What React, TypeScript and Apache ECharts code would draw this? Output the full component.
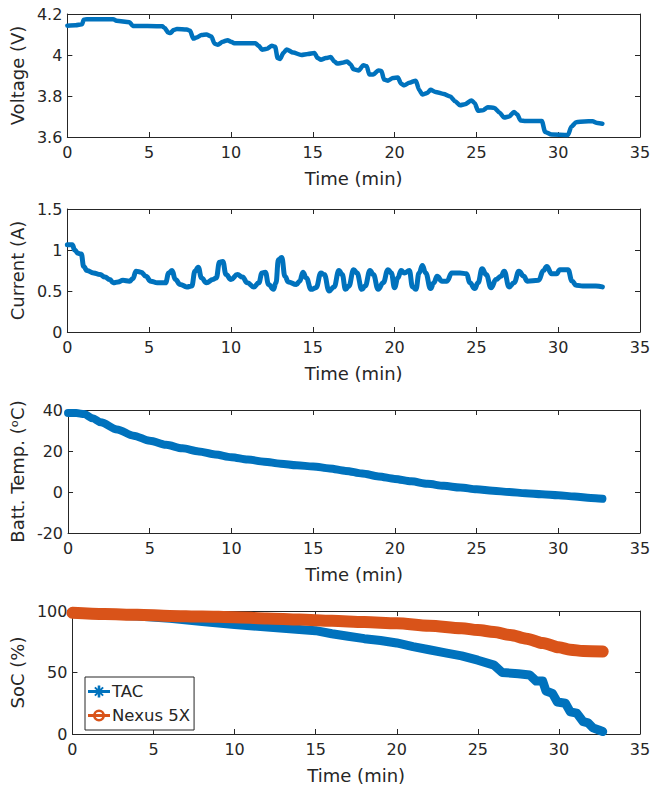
import React, { useEffect, useRef } from 'react';
import * as echarts from 'echarts';

// ---------- data ----------
const xTickMin = 0;
const xTickMax = 35;
const xTickStep = 5;

const voltTime = [0, 0.5, 0.9, 1.0, 1.2, 2.8, 3.0, 3.8, 4.0, 5.8, 5.95, 6.15, 6.3, 6.5, 6.7, 7.3, 7.5, 7.7, 7.9, 8.2, 8.5, 8.8, 9.0, 9.2, 9.5, 9.8, 10.0, 10.2, 11.5, 11.7, 11.9, 12.2, 12.5, 12.7, 12.85, 13.0, 13.2, 13.4, 13.8, 14.3, 14.7, 15.1, 15.3, 15.5, 15.8, 16.1, 16.3, 16.5, 16.8, 17.1, 17.3, 17.5, 17.8, 18.1, 18.3, 18.45, 18.7, 19.0, 19.2, 19.35, 19.6, 19.9, 20.2, 20.4, 20.6, 20.9, 21.3, 21.5, 21.7, 22.0, 22.2, 22.5, 23.0, 23.4, 23.7, 24.0, 24.3, 24.7, 24.9, 25.1, 25.4, 25.7, 26.1, 26.4, 26.7, 27.0, 27.3, 27.5, 27.7, 28.0, 29.0, 29.2, 29.6, 30.6, 30.8, 31.1, 31.6, 32.1, 32.4, 32.7];
const voltValue = [4.143, 4.145, 4.15, 4.172, 4.175, 4.175, 4.167, 4.16, 4.142, 4.14, 4.132, 4.11, 4.107, 4.122, 4.127, 4.125, 4.118, 4.08, 4.085, 4.098, 4.1, 4.09, 4.055, 4.05, 4.065, 4.072, 4.065, 4.057, 4.057, 4.045, 4.026, 4.03, 4.045, 4.04, 3.985, 3.98, 4.01, 4.027, 4.012, 4.0, 4.005, 4.01, 3.985, 3.977, 3.985, 3.99, 3.97, 3.958, 3.962, 3.968, 3.955, 3.93, 3.925, 3.95, 3.945, 3.905, 3.905, 3.925, 3.922, 3.88, 3.875, 3.888, 3.89, 3.86, 3.852, 3.865, 3.875, 3.83, 3.807, 3.815, 3.83, 3.82, 3.81, 3.798, 3.775, 3.755, 3.76, 3.778, 3.765, 3.728, 3.73, 3.745, 3.742, 3.72, 3.695, 3.7, 3.722, 3.71, 3.68, 3.678, 3.678, 3.625, 3.612, 3.61, 3.65, 3.672, 3.676, 3.677, 3.668, 3.665];

const currTime = [0, 0.3, 0.45, 0.65, 0.85, 1.0, 1.2, 1.6, 2.0, 2.3, 2.6, 2.8, 3.1, 3.4, 3.8, 4.0, 4.2, 4.5, 4.8, 5.1, 5.5, 6.0, 6.2, 6.4, 6.6, 6.9, 7.3, 7.6, 7.8, 8.0, 8.2, 8.5, 8.9, 9.1, 9.3, 9.5, 9.7, 10.0, 10.4, 10.7, 11.0, 11.4, 11.7, 11.9, 12.1, 12.3, 12.6, 12.75, 12.9, 13.1, 13.3, 13.5, 14.0, 14.2, 14.4, 14.6, 14.9, 15.2, 15.5, 15.7, 16.0, 16.3, 16.6, 16.8, 17.0, 17.2, 17.5, 17.7, 18.0, 18.2, 18.5, 18.7, 19.0, 19.3, 19.6, 19.8, 20.0, 20.2, 20.4, 20.6, 20.9, 21.1, 21.3, 21.5, 21.7, 21.9, 22.2, 22.4, 22.6, 22.9, 23.2, 23.5, 24.0, 24.4, 24.6, 24.9, 25.1, 25.35, 25.6, 25.9, 26.2, 26.5, 26.7, 27.0, 27.3, 27.6, 27.9, 28.1, 28.8, 29.1, 29.3, 29.6, 29.9, 30.1, 30.6, 30.85, 31.1, 31.5, 32.3, 32.7];
const currValue = [1.065, 1.065, 1.0, 0.96, 0.95, 0.8, 0.75, 0.72, 0.7, 0.67, 0.64, 0.6, 0.61, 0.63, 0.62, 0.65, 0.74, 0.73, 0.68, 0.62, 0.6, 0.6, 0.72, 0.75, 0.64, 0.58, 0.55, 0.56, 0.74, 0.79, 0.66, 0.6, 0.64, 0.66, 0.85, 0.86, 0.7, 0.64, 0.7, 0.67, 0.6, 0.55, 0.6, 0.72, 0.73, 0.58, 0.52, 0.6, 0.88, 0.91, 0.68, 0.61, 0.58, 0.62, 0.73, 0.66, 0.52, 0.54, 0.72, 0.7, 0.5, 0.55, 0.75, 0.7, 0.52, 0.56, 0.76, 0.72, 0.52, 0.56, 0.75, 0.7, 0.52, 0.6, 0.76, 0.72, 0.54, 0.66, 0.75, 0.72, 0.75, 0.55, 0.52, 0.72, 0.81, 0.72, 0.53, 0.6, 0.68, 0.62, 0.62, 0.72, 0.72, 0.71, 0.6, 0.53, 0.6, 0.77, 0.7, 0.54, 0.64, 0.68, 0.74, 0.55, 0.6, 0.74, 0.68, 0.62, 0.63, 0.75, 0.8, 0.71, 0.71, 0.76, 0.76, 0.62, 0.57, 0.56, 0.56, 0.55];

const tempTime = [0, 0.5, 1, 1.5, 2, 3, 4, 5, 6, 7, 8, 9, 10, 11, 12, 13, 14, 15, 16, 17, 18, 19, 20, 21, 22, 23, 24, 25, 26, 27, 28, 29, 30, 31, 32, 32.7];
const tempValue = [38.5, 38.5, 38, 36, 34, 30.5, 27.5, 25, 23, 21.3, 19.8, 18.3, 17, 15.8, 14.8, 13.8, 13, 12.5, 11.5, 10.3, 9, 7.6, 6.4, 5.2, 4, 3, 2.2, 1.3, 0.6, 0, -0.6, -1.1, -1.6, -2.2, -2.9, -3.3];

const tacTime = [0, 2, 4, 6, 8, 10, 12, 14, 15, 16, 17, 18, 19, 20, 21, 22, 23, 24, 25, 26, 26.5, 27.5, 28.2, 28.6, 29.0, 29.2, 29.6, 29.9, 30.4, 30.7, 31.1, 31.5, 31.8, 32.1, 32.5, 32.7];
const tacSoc = [98, 97, 96, 94, 91.5, 89, 87, 85, 84, 81.5, 79.5, 77.5, 76, 74, 71, 68.5, 66, 63.5, 60, 56, 50, 49, 48, 43, 43, 35, 33, 26, 25, 18, 17, 10, 9, 5, 3, 2];

const nexusTime = [0, 2, 4, 6, 8, 10, 12, 14, 16, 18, 20, 22, 24, 25, 26, 27, 28, 29, 30, 30.7, 31.5, 32.7];
const nexusSoc = [98.5, 97.5, 97, 96, 95.5, 95, 94, 93, 92, 91, 90, 88, 86, 84.5, 83, 80.5, 77.5, 74, 70.5, 68.5, 67.5, 67];

const yLabels = ['Voltage (V)', 'Current (A)', 'Batt. Temp. (ᵒC)', 'SoC (%)'];
const yMin = [3.6, 0, -20, 0];
const yMax = [4.2, 1.5, 40, 100];
const yStep = [0.2, 0.5, 20, 50];
const xLabel = 'Time (min)';
const legendNames = ['TAC', 'Nexus 5X'];

// ---------- style ----------
const FONT = 'DejaVu Sans';
const TXT = '#262626';
const AXC = '#262626';
const BLUE = '#0072BD';
const ORANGE = '#D95319';
const panelTops = [14, 209, 410, 611];
const panelH = 123;

const pair = (t: number[], v: number[]) => t.map((x, i) => [x, v[i]]);

const TAC_ICON =
  'path://M0 4.5L22 4.5L22 7.5L0 7.5Z M9.7 0L12.3 0L12.3 12L9.7 12Z M7.6 1.2L15.8 9.4L14.4 10.8L6.2 2.6Z M14.4 1.2L15.8 2.6L7.6 10.8L6.2 9.4Z';
const NEXUS_ICON =
  'path://M0 4.5L22 4.5L22 7.5L0 7.5Z M5 6A6 6 0 0 1 17 6A6 6 0 0 1 5 6Z M7.6 6A3.4 3.4 0 0 0 14.4 6A3.4 3.4 0 0 0 7.6 6Z';

export default function App() {
  const ref = useRef<HTMLDivElement>(null);
  useEffect(() => {
    const chart = echarts.init(ref.current!, null, { renderer: 'svg' });
    const grids: any[] = [];
    const xAxes: any[] = [];
    const yAxes: any[] = [];
    const axisLine = { show: true, onZero: false, lineStyle: { color: AXC, width: 1 } };
    const tick = { show: true, inside: true, length: 5, lineStyle: { color: AXC, width: 1 } };
    const labelStyle = { color: TXT, fontFamily: FONT, fontSize: 16 };
    for (let i = 0; i < 4; i++) {
      grids.push({ left: 67, width: 573, top: panelTops[i], height: panelH, containLabel: false });
    }
    for (let i = 0; i < 4; i++) {
      xAxes.push({
        type: 'value', gridIndex: i, min: xTickMin, max: xTickMax, interval: xTickStep,
        position: 'bottom', axisLine, axisTick: tick, splitLine: { show: false },
        axisLabel: { ...labelStyle, margin: 7 },
        name: xLabel, nameLocation: 'middle', nameGap: 32,
        nameTextStyle: { color: TXT, fontFamily: FONT, fontSize: 18 },
      });
    }
    for (let i = 0; i < 4; i++) {
      xAxes.push({
        type: 'value', gridIndex: i, min: xTickMin, max: xTickMax, interval: xTickStep,
        position: 'top', axisLine, axisTick: tick, splitLine: { show: false },
        axisLabel: { show: false },
      });
    }
    for (let i = 0; i < 4; i++) {
      yAxes.push({
        type: 'value', gridIndex: i, min: yMin[i], max: yMax[i], interval: yStep[i],
        position: 'left', axisLine, axisTick: tick, splitLine: { show: false },
        axisLabel: {
          ...labelStyle, margin: 5,
          formatter: (v: number) => String(+v.toFixed(2)),
        },
        name: yLabels[i], nameLocation: 'middle', nameGap: 34,
        nameTextStyle: { color: TXT, fontFamily: FONT, fontSize: 18 },
      });
    }
    for (let i = 0; i < 4; i++) {
      yAxes.push({
        type: 'value', gridIndex: i, min: yMin[i], max: yMax[i], interval: yStep[i],
        position: 'right', axisLine, axisTick: tick, splitLine: { show: false },
        axisLabel: { show: false },
      });
    }
    const lineSeries = (name: string, idx: number, data: number[][], color: string, width: number, smooth = 0) => ({
      type: 'line', name, xAxisIndex: idx, yAxisIndex: idx, data,
      showSymbol: false, symbol: 'none', clip: false,
      smooth, smoothMonotone: 'x',
      lineStyle: { color, width, cap: 'round', join: 'round' },
      itemStyle: { color },
    });
    chart.setOption({
      animation: false,
      backgroundColor: '#ffffff',
      grid: grids,
      xAxis: xAxes,
      yAxis: yAxes,
      legend: {
        left: 85, top: 677, orient: 'vertical',
        data: [
          { name: legendNames[0], icon: TAC_ICON },
          { name: legendNames[1], icon: NEXUS_ICON },
        ],
        itemWidth: 22, itemHeight: 12, itemGap: 7,
        padding: [6, 4, 6, 3],
        borderColor: AXC, borderWidth: 1, backgroundColor: '#ffffff',
        textStyle: { color: TXT, fontFamily: FONT, fontSize: 16.5, padding: [0, 0, 0, -3] },
      },
      series: [
        lineSeries('Voltage', 0, pair(voltTime, voltValue), BLUE, 4.5, 0.25),
        lineSeries('Current', 1, pair(currTime, currValue), BLUE, 5, 0.45),
        lineSeries('Temp', 2, pair(tempTime, tempValue), BLUE, 8, 0.3),
        lineSeries(legendNames[0], 3, pair(tacTime, tacSoc), BLUE, 9),
        lineSeries(legendNames[1], 3, pair(nexusTime, nexusSoc), ORANGE, 12, 0.3),
      ],
    });
    return () => chart.dispose();
  }, []);
  return (
    <div
      ref={ref}
      style={{ position: 'absolute', left: 0, top: 0, width: 657, height: 785, background: '#fff' }}
    />
  );
}
